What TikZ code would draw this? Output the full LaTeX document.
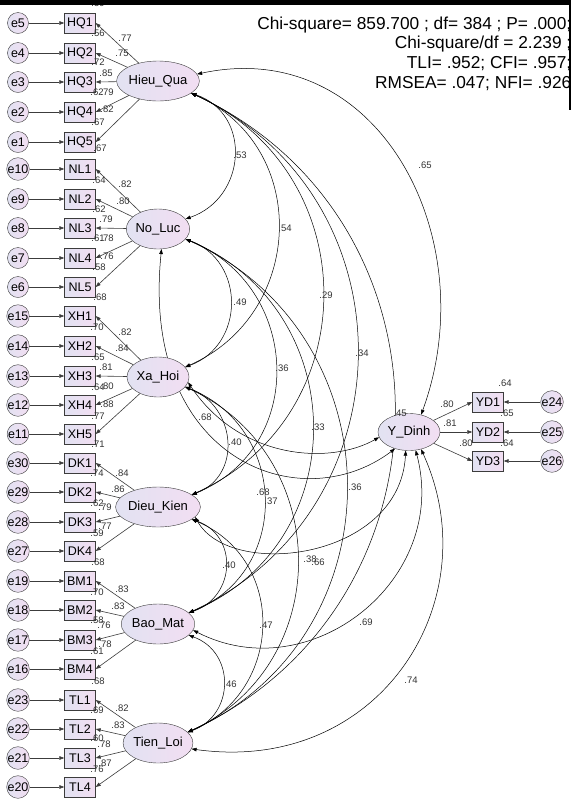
\documentclass[tikz,border=0pt]{standalone}
\usepackage{fontspec}
\setmainfont{Liberation Sans}
\usetikzlibrary{arrows.meta,shapes.geometric,backgrounds}
\definecolor{amosLeft}{RGB}{226,226,242}
\definecolor{amosRight}{RGB}{242,222,242}
\definecolor{amosLine}{HTML}{3C3C3C}
\definecolor{amosText}{HTML}{333333}

\tikzset{
  latent/.style={ellipse, draw=amosLine, left color=amosLeft, right color=amosRight,
    minimum width=62pt, minimum height=40pt, inner sep=0pt,
    font=\fontsize{13}{15}\selectfont},
  observed/.style={rectangle, draw=amosLine, left color=amosLeft, right color=amosRight,
    minimum width=31pt, minimum height=20pt, inner sep=0pt,
    font=\fontsize{12.5}{14}\selectfont},
  errterm/.style={circle, draw=amosLine, left color=amosLeft, right color=amosRight,
    minimum size=21pt, inner sep=0pt, font=\fontsize{12.5}{14}\selectfont},
  load/.style={->, draw=amosLine, line width=0.6pt},
  cov/.style={<->, line width=0.5pt},
  val/.style={font=\fontsize{9.5}{10}\selectfont, text=amosText, inner sep=0pt},
}

\begin{document}
\begin{tikzpicture}[x=1pt, y=-1pt, >={Triangle[length=5pt,width=3.6pt]}]
  \useasboundingbox (0,0) rectangle (571,807);

  % factors
  \node[latent] (hieu) at (158,81) {Hieu\_Qua};
  \node[latent] (noluc) at (158,229) {No\_Luc};
  \node[latent] (xahoi) at (158,377) {Xa\_Hoi};
  \node[latent] (dieukien) at (158,507) {Dieu\_Kien};
  \node[latent] (baomat) at (158,624) {Bao\_Mat};
  \node[latent] (tienloi) at (158,743) {Tien\_Loi};
  \node[latent, minimum height=37pt] (ydinh) at (409,432) {Y\_Dinh};

  % indicators and their errors
  \foreach \i/\y/\e in {1/23/5,2/53/4,3/82/3,4/112/2,5/142/1}{
    \node[observed] (hq\i) at (80,\y) {HQ\i};
    \node[errterm] (e\e) at (18,\y) {e\e};
    \draw[load] (e\e) -- (hq\i);
    \draw[load] (hieu) -- (hq\i.east);
  }
  \foreach \i/\y/\e in {1/169/10,2/199/9,3/228/8,4/258/7,5/287/6}{
    \node[observed] (nl\i) at (80,\y) {NL\i};
    \node[errterm] (e\e) at (18,\y) {e\e};
    \draw[load] (e\e) -- (nl\i);
    \draw[load] (noluc) -- (nl\i.east);
  }
  \foreach \i/\y/\e in {1/316/15,2/346/14,3/376/13,4/405/12,5/434/11}{
    \node[observed] (xh\i) at (80,\y) {XH\i};
    \node[errterm] (e\e) at (18,\y) {e\e};
    \draw[load] (e\e) -- (xh\i);
    \draw[load] (xahoi) -- (xh\i.east);
  }
  \foreach \i/\y/\e in {1/463/30,2/492/29,3/522/28,4/551/27}{
    \node[observed] (dk\i) at (80,\y) {DK\i};
    \node[errterm] (e\e) at (18,\y) {e\e};
    \draw[load] (e\e) -- (dk\i);
    \draw[load] (dieukien) -- (dk\i.east);
  }
  \foreach \i/\y/\e in {1/581/19,2/610/18,3/640/17,4/669/16}{
    \node[observed] (bm\i) at (80,\y) {BM\i};
    \node[errterm] (e\e) at (18,\y) {e\e};
    \draw[load] (e\e) -- (bm\i);
    \draw[load] (baomat) -- (bm\i.east);
  }
  \foreach \i/\y/\e in {1/700/23,2/729/22,3/758/21,4/787/20}{
    \node[observed] (tl\i) at (80,\y) {TL\i};
    \node[errterm] (e\e) at (18,\y) {e\e};
    \draw[load] (e\e) -- (tl\i);
    \draw[load] (tienloi) -- (tl\i.east);
  }
  \foreach \i/\y/\e in {1/402/24,2/432/25,3/461/26}{
    \node[observed] (yd\i) at (488,\y) {YD\i};
    \node[errterm] (e\e) at (552,\y) {e\e};
    \draw[load] (e\e) -- (yd\i);
    \draw[load] (ydinh) -- (yd\i.west);
  }

  % correlations, behind the shapes
  \begin{scope}[on background layer]
    \fill[white] (0,0) rectangle (571,807);
    \draw[cov] (hieu.-20) .. controls +(61,21) and +(61,-21) .. (noluc.20);
    \draw[cov] (hieu.-20) .. controls +(120,53) and +(120,-53) .. (xahoi.20);
    \draw[cov] (hieu.-20) .. controls +(175,79) and +(175,-79) .. (dieukien.20);
    \draw[cov] (hieu.-20) .. controls +(223,103) and +(223,-103) .. (baomat.20);
    \draw[cov] (hieu.-20) .. controls +(273,127) and +(273,-127) .. (tienloi.20);
    \draw[cov] (noluc.-20) .. controls +(60,22) and +(60,-22) .. (xahoi.20);
    \draw[cov] (noluc.-20) .. controls +(116,47) and +(116,-47) .. (dieukien.20);
    \draw[cov] (noluc.-20) .. controls +(167,70) and +(167,-70) .. (baomat.20);
    \draw[cov] (noluc.-20) .. controls +(213,96) and +(213,-96) .. (tienloi.20);
    \draw[cov] (xahoi.-20) .. controls +(51,19) and +(51,-19) .. (dieukien.20);
    \draw[cov] (xahoi.-20) .. controls +(103,41) and +(103,-41) .. (baomat.20);
    \draw[cov] (xahoi.-20) .. controls +(148,68) and +(148,-68) .. (tienloi.20);
    \draw[cov] (dieukien.-20) .. controls +(47,16) and +(47,-16) .. (baomat.20);
    \draw[cov] (dieukien.-20) .. controls +(96,40) and +(96,-40) .. (tienloi.20);
    \draw[cov] (baomat.-20) .. controls +(47,17) and +(47,-17) .. (tienloi.20);
    % with Y_Dinh
    \draw[cov] (hieu.10) .. controls (380,35) and (485,240) .. (ydinh.55);
    \draw[cov] (noluc.-80) .. controls (140,460) and (300,520) .. (ydinh.-130);
    \draw[cov] (xahoi.-10) .. controls (240,460) and (330,465) .. (ydinh.-170);
    \draw[cov] (dieukien.-15) .. controls (230,580) and (400,560) .. (ydinh.-100);
    \draw[cov] (baomat.-10) .. controls (310,690) and (450,580) .. (ydinh.-70);
    \draw[cov] (tienloi.-10) .. controls (380,775) and (490,600) .. (ydinh.-55);
  \end{scope}

  % estimates
  \foreach \x/\y/\t in {98/3/.59, 98/33/.56, 98/62/.72, 97/92/.62, 98/122/.67,
      125/38/.77, 122/53/.75, 106/73/.85, 107/92/.79, 107/109/.82,
      100/148/.67, 99/180/.64, 99/209/.62, 98/238/.61, 99/267/.58,
      125/184/.82, 123/201/.80, 106/219/.79, 107/238/.78, 107/256/.76,
      100/297/.68, 97/327/.70, 98/357/.65, 98/387/.64, 98/416/.77,
      125/332/.82, 122/348/.84, 106/367/.81, 107/386/.80, 107/404/.88,
      98/444/.71, 97/473/.74, 97/503/.62, 97/533/.59,
      122/473/.84, 118/489/.86, 105/507/.79, 105/526/.77,
      98/562/.68, 97/592/.70, 97/620/.58, 97/651/.61,
      122/589/.83, 118/606/.83, 104/625/.76, 105/644/.78,
      98/681/.68, 97/710/.69, 97/738/.60, 97/769/.76,
      122/708/.82, 118/725/.83, 104/744/.78, 105/763/.87,
      505/383/.64, 507/413/.65, 507/443/.64,
      447/404/.80, 450/423/.81, 466/443/.80}
    \node[val] at (\x,\y) {\t};
  \foreach \x/\y/\t in {240/155/.53, 285/228/.54, 326/295/.29, 362/353/.34,
      400/413/.45, 425/165/.65, 240/302/.49, 282/368/.36, 318/427/.33,
      355/487/.36, 205/417/.68, 235/442/.40, 263/492/.68, 271/501/.37,
      310/559/.38, 318/562/.66, 229/565/.40, 266/625/.47, 366/622/.69,
      230/684/.46, 411/680/.74}
    \node[val] at (\x,\y) {\t};

  % fit indices
  \node[anchor=north east, align=right, inner sep=0pt,
        font=\fontsize{17.3}{19.7}\selectfont] (fitinfo) at (571.5,16.3)
    {Chi-square= 859.700 ; df= 384 ; P= .000;\\
     Chi-square/df = 2.239 ;\\
     TLI= .952; CFI= .957;\\
     RMSEA= .047; NFI= .926};

  \fill[black] (0,0) rectangle (571,4.5);
  \fill[black] (568.5,0) rectangle (571,110);
\end{tikzpicture}
\end{document}
